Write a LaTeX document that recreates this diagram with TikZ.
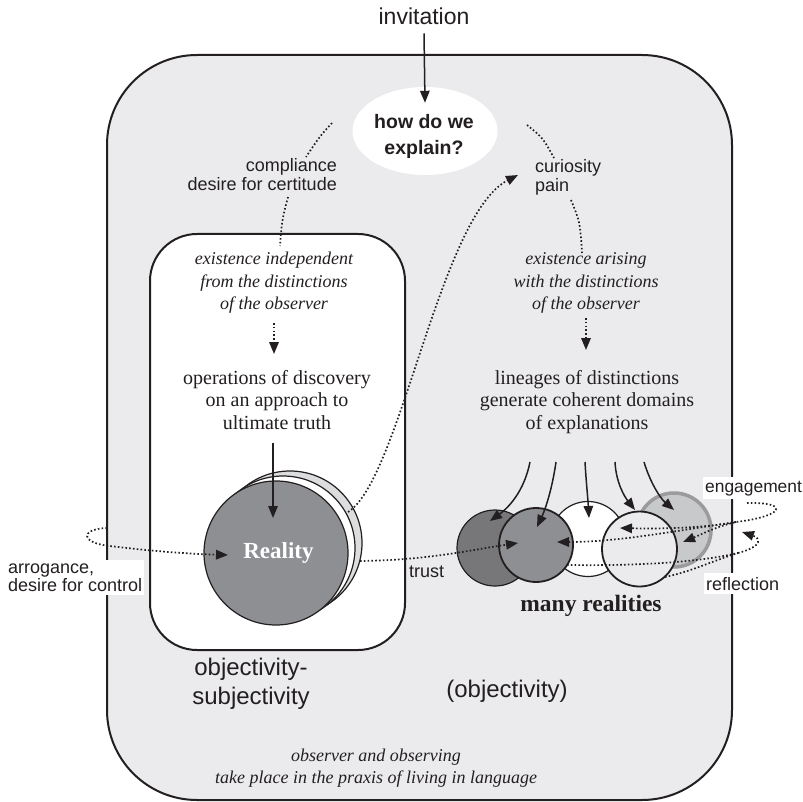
\documentclass[tikz,border=0pt]{standalone}
\usepackage{fontspec}
\setmainfont{Liberation Serif}
\setsansfont{Liberation Sans}
\usetikzlibrary{arrows.meta,shapes.geometric}
\definecolor{bg}{HTML}{EBEBED}
\definecolor{ink}{HTML}{231F20}
\definecolor{realgray}{HTML}{8E8F93}
\definecolor{backgray}{HTML}{DCDDDF}
\definecolor{darkgrayone}{HTML}{77777A}
\definecolor{ltgrayfive}{HTML}{C8C9CB}
\definecolor{rimfive}{HTML}{9B9B9E}
\begin{document}
\begin{tikzpicture}[x=1pt,y=-1pt,
  lab/.style={font=\sffamily\fontsize{18}{18.5}\selectfont, text=ink, inner sep=0pt},
  boxlab/.style={lab, fill=white, inner xsep=2pt, inner ysep=3.5pt},
  big/.style={font=\sffamily\fontsize{24}{29}\selectfont, text=ink, inner sep=0pt, align=center},
  ital/.style={font=\itshape\fontsize{18}{22.5}\selectfont, text=ink, align=center, inner sep=0pt},
  rom/.style={font=\fontsize{20}{22.5}\selectfont, text=ink, align=center, inner sep=0pt},
  tipend/.style={-{Triangle[length=12pt,width=9.5pt]}},
  solidarr/.style={draw=ink, line width=1.5pt, tipend},
  dotline/.style={draw=ink, line width=1.7pt, dash pattern=on 1.6pt off 2.2pt},
  dotarr/.style={dotline, tipend},
  disc/.style={circle, draw=ink, inner sep=0pt},
]
\useasboundingbox (0,0) rectangle (803,802);

% outer frame
\draw[fill=bg, draw=ink, line width=2pt, rounded corners=90pt] (107,55) rectangle (732,800);
% inner box
\draw[fill=white, draw=ink, line width=2pt, rounded corners=47pt] (150,234) rectangle (405,650);

% top
\node[font=\sffamily\fontsize{23}{26}\selectfont, text=ink, inner sep=0pt, anchor=base] (invit) at (424,25) {invitation};
\node[ellipse, fill=white, minimum width=145pt, minimum height=88pt, inner sep=0pt] (how) at (425,131) {};
\node[font=\sffamily\bfseries\fontsize{19.5}{26}\selectfont, text=ink, inner sep=0pt, align=center] (howtxt) at (424,136) {how do we\\explain?};
\draw[solidarr] ([yshift=-8pt]invit.south) -- ([yshift=-16pt]how.north);

\node[lab, align=right, anchor=east] (comp) at (337,174.5) {compliance\\desire for certitude};
\node[lab, align=left, anchor=west] (cur) at (535,177.5) {curiosity\\pain};

\draw[dotline] (332,123) .. controls (320,136) .. (306,157);
\draw[dotline] (288,197) .. controls (282,220) .. (280,246);
\draw[dotline] (527,125) .. controls (543,138) .. (554,158);
\draw[dotline] (571,200) .. controls (580,222) .. (582,253);

% left column
\node[ital] (indep) at (274,283) {existence independent\\from the distinctions\\of the observer};
\node[rom] (oper) at (277,400) {operations of discovery\\on an approach to\\ultimate truth};
\draw[dotarr] (274,323) -- (274,354);

% right column
\node[ital] (arise) at (586,283) {existence arising\\with the distinctions\\of the observer};
\node[rom] (lineage) at (587,402) {lineages of distinctions\\generate coherent domains\\of explanations};
\draw[dotarr] (586,318) -- (586,350);

% Reality
\node[disc, line width=1.2pt, fill=backgray, minimum size=144pt] (realback) at (290,543) {};
\node[disc, line width=1.2pt, fill=white, minimum size=144pt] (realmid) at (283,548) {};
\node[disc, line width=1.2pt, fill=realgray, minimum size=144pt, text=white,
      font=\bfseries\fontsize{23}{26}\selectfont] (reality) at (276,553) {\hspace*{5pt}Reality};
\draw[solidarr] (273,443) -- (273,518);

% many realities
\node[disc, draw=rimfive, line width=3.5pt, fill=ltgrayfive, minimum size=74pt] (c5) at (674,530) {};
\node[disc, line width=1.2pt, fill=white, minimum size=75pt] (c3) at (588,539) {};
\node[disc, line width=1.2pt, fill=darkgrayone, minimum size=76pt] (c1) at (495,548) {};
\node[disc, line width=1.8pt, fill=realgray, minimum size=74pt] (c2) at (536,545) {};
\node[disc, line width=1.8pt, fill=bg, minimum size=75pt] (c4) at (639.5,549) {};

\draw[solidarr] (530,462) .. controls (524,492) and (508,508) .. (490,521);
\draw[solidarr] (556,462) .. controls (552,490) and (545,510) .. (537,527);
\draw[solidarr] (585,462) .. controls (586,480) and (588,500) .. (589,518);
\draw[solidarr] (615,462) .. controls (616,482) and (624,496) .. (635,510);
\draw[solidarr] (644,462) .. controls (650,482) and (660,498) .. (674,510);

\node[font=\bfseries\fontsize{23.5}{26}\selectfont, text=ink, inner sep=0pt, anchor=base] (many) at (591,611) {many realities};

% dotted flows
\coordinate (arrstart) at (107,528);
\draw[dotarr] (arrstart) .. controls (80,529) and (80,543) .. (110,546) .. controls (150,551) and (190,554) .. (228,555);
\draw[dotarr] (360,561) .. controls (430,560) and (470,550) .. (518,543);
\draw[dotarr] (348,512) .. controls (400,480) and (440,215) .. (518,175);

\coordinate (engstart) at (747,503);
\coordinate (engjoin) at (736,522);
\draw[dotarr] (engstart) .. controls (790,502) and (785,516) .. (engjoin) .. controls (715,527) and (700,535) .. (683,542);
\draw[dotarr] (engjoin) .. controls (680,530) and (620,542) .. (557,542);
\draw[dotarr] (engjoin) .. controls (705,528) and (660,529) .. (620,528);

\coordinate (refjoin) at (738,553);
\draw[dotline] (567,565) .. controls (640,566) and (700,562) .. (refjoin);
\draw[dotline] (665,577) .. controls (690,572) and (715,560) .. (refjoin);
\draw[dotarr] (refjoin) .. controls (764,546) and (760,538) .. (742,532);

% labels over the frame
\node[boxlab, align=left, anchor=west] (arrog) at (6,577.5) {arrogance,\\desire for control};
\node[boxlab, anchor=base west, font=\sffamily\fontsize{17.4}{18}\selectfont] (engage) at (703,492) {engagement};
\node[boxlab, anchor=base west] (reflect) at (704,590) {reflection};
\node[lab, anchor=base west] (trust) at (409,577) {trust};

% bottom
\node[big] (objsub) at (251,684) {objectivity-\\subjectivity};
\node[big, anchor=base] (obj) at (507,697) {(objectivity)};
\node[ital] (praxis) at (376,768) {observer and observing\\take place in the praxis of living in language};
\end{tikzpicture}
\end{document}
